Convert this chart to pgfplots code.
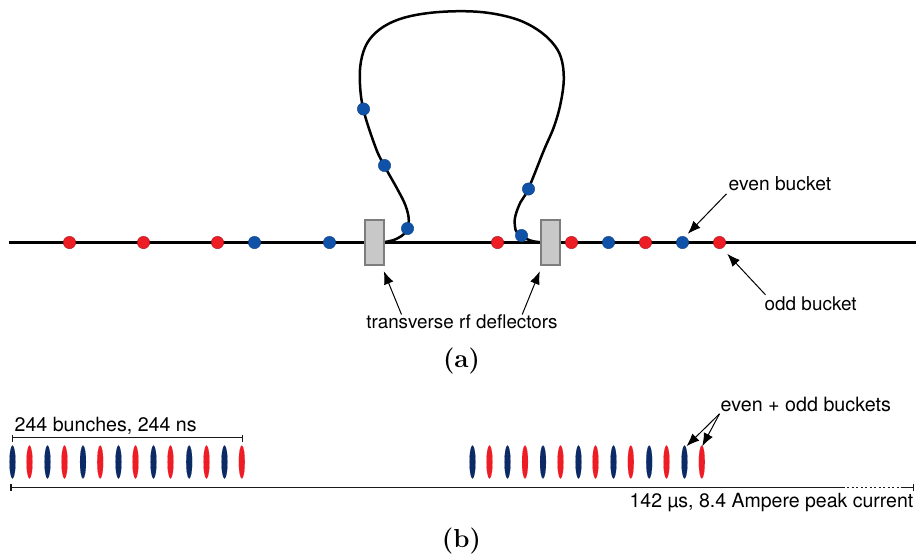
\documentclass[border=0pt]{standalone}
\usepackage{fontspec}
\setmainfont{Latin Modern Roman}
\newfontfamily\hv{TeX Gyre Heros}
\usepackage{pgfplots}
\pgfplotsset{compat=1.18}
\usetikzlibrary{arrows.meta}
\definecolor{bblue}{HTML}{0F52A8}
\definecolor{bred}{HTML}{EE1C25}
\definecolor{nblue}{HTML}{0B2A66}
\newcommand{\lab}[1]{\hv\fontsize{#1}{22}\selectfont\ignorespaces}
\begin{document}
\begin{tikzpicture}[x=1pt,y=1pt]
\useasboundingbox (0,0) rectangle (917,554);
\begin{axis}[at={(0,0)},anchor=south west,width=917pt,height=554pt,scale only axis,
  xmin=-0.5,xmax=916.5,ymin=-0.5,ymax=553.5,y dir=reverse,hide axis,clip=false,
  arw/.style={black,line width=1pt,-{Latex[length=13pt,width=10pt]}}]
% beam line
\addplot[black,line width=3pt,no marks] coordinates {(8,242) (915,242)};
% loop
\addplot[black,line width=2.5pt,no marks,smooth,tension=0.6] coordinates {
(383.3,241.7)(395,238.8)(405,231.7)(408.3,220)(405,205)(396.7,188.3)(383.7,165)
(375,146.7)(362.7,108.3)(359.3,78.3)(361.5,56)(369,39)(383.3,26)
(403.3,17.3)(430,12.3)(461.7,10.7)(490,12.7)(516.7,19)(536.7,29)(551.7,42)(560.5,57)
(563.3,78.3)(560,103.3)(553.3,126.7)(543.3,150)(527.7,188.7)(520,201.7)(515,215)
(514.3,225)(517.5,233.5)(530,240)(540,241.7)};
% deflectors
\addplot[fill={rgb,255:red,200;green,200;blue,200},draw={rgb,255:red,125;green,125;blue,125},line width=2pt] coordinates {(364,219)(383,219)(383,264)(364,264)} --cycle;
\addplot[fill={rgb,255:red,200;green,200;blue,200},draw={rgb,255:red,125;green,125;blue,125},line width=2pt] coordinates {(540,219)(559,219)(559,264)(540,264)} --cycle;
% buckets
\addplot[only marks,mark=*,mark size=6.2pt,mark options={fill=bred,draw=bred!70!black,line width=0.4pt}] coordinates {
(69,242)(143,242)(217,242)(497,242)(571,242)(645,242)(719,242)};
\addplot[only marks,mark=*,mark size=6.2pt,mark options={fill=bblue,draw=bblue!80!black,line width=0.4pt}] coordinates {
(254,242)(329,242)(608,242)(682,242)(363,108.5)(384,165)(407,228)(528,188.5)(521,235)};
% bunches
\addplot[only marks,mark=*,mark size=16.5pt,mark options={xscale=0.18,fill=nblue,draw=nblue,line width=0.1pt}] coordinates {
(12,461.5)(47,461.5)(82.5,461.5)(118,461.5)(153,461.5)(188.7,461.5)(224,461.5)
(472,461.5)(507,461.5)(542.5,461.5)(578,461.5)(613,461.5)(648.7,461.5)(684,461.5)};
\addplot[only marks,mark=*,mark size=16.5pt,mark options={xscale=0.18,fill=bred,draw=bred,line width=0.1pt}] coordinates {
(29,461.5)(64,461.5)(99.7,461.5)(135,461.5)(170,461.5)(206,461.5)(241.3,461.5)
(489,461.5)(524.5,461.5)(560,461.5)(595,461.5)(630.3,461.5)(666,461.5)(701.3,461.5)};
% brackets
\addplot[black!90,line width=1.1pt] coordinates {(12,437.3)(241.7,437.3)};
\addplot[black!90,line width=1.1pt] coordinates {(12,434)(12,441)};
\addplot[black!90,line width=1.1pt] coordinates {(241.7,434)(241.7,441)};
\addplot[black!90,line width=1.1pt] coordinates {(10.5,487)(842,487)};
\addplot[black!90,line width=1.1pt,dash pattern=on 2pt off 2.5pt] coordinates {(842,487)(900,487)};
\addplot[black!90,line width=1.1pt] coordinates {(900,487)(912.7,487)};
\addplot[black!90,line width=1.1pt] coordinates {(10.5,483.5)(10.5,490.5)};
\addplot[black!90,line width=1.1pt] coordinates {(912.7,483.5)(912.7,490.5)};
% arrows
\addplot[arw] coordinates {(726,193.3)(687.3,233.3)};
\addplot[arw] coordinates {(765,294.3)(726.7,253.3)};
\addplot[arw] coordinates {(401,314)(383.3,270.7)};
\addplot[arw] coordinates {(521.7,314)(539.3,270.7)};
\addplot[arw] coordinates {(719,413.3)(686,445.7)};
\addplot[arw] coordinates {(719,413.3)(701.7,445.7)};
% labels
\node[anchor=base west,inner sep=0] at (axis cs:728,190) {\lab{19.2} even bucket};
\node[anchor=base west,inner sep=0] at (axis cs:764,310) {\lab{18.9} odd bucket};
\node[anchor=base,inner sep=0] at (axis cs:461.5,328.3) {\lab{18.8} transverse rf deflectors};
\node[anchor=base west,inner sep=0] at (axis cs:14,430.7) {\lab{19.6} 244 bunches, 244 ns};
\node[anchor=base west,inner sep=0] at (axis cs:720,411) {\lab{19.7} even + odd buckets};
\node[anchor=base east,inner sep=0] at (axis cs:913,506.7) {\lab{19.5} 142 µs, 8.4 Ampere peak current};
\node[anchor=base,inner sep=0] at (axis cs:461,366.7) {\fontsize{26}{30}\selectfont\bfseries (a)};
\node[anchor=base,inner sep=0] at (axis cs:461,547) {\fontsize{26}{30}\selectfont\bfseries (b)};
\end{axis}
\end{tikzpicture}
\end{document}
